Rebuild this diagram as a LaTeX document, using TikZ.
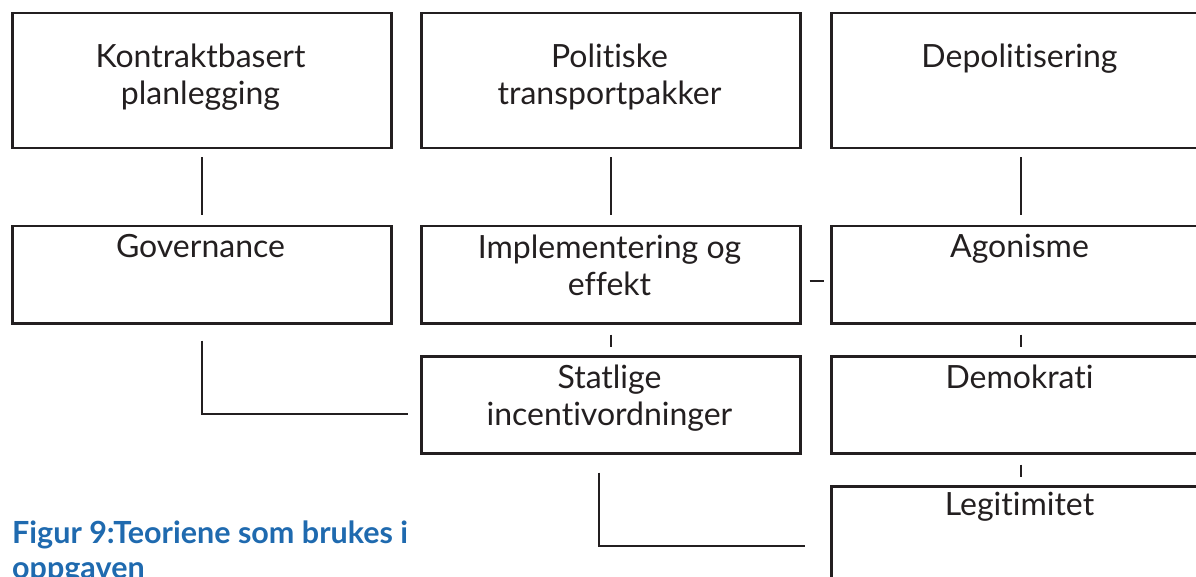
\documentclass[tikz,border=0pt]{standalone}
\usepackage{fontspec}
\setmainfont{Lato}[Ligatures=NoCommon]
\usetikzlibrary{calc}
\definecolor{ink}{HTML}{231F20}
\definecolor{capblue}{HTML}{1F6AAF}
\begin{document}
\begin{tikzpicture}[x=1pt,y=-1pt,
  box/.style={draw=ink, line width=2.5pt, rectangle, minimum width=379pt, minimum height=#1, inner sep=0pt, anchor=north west},
  lbl/.style={font=\fontsize{32}{37}\selectfont, align=center, anchor=base, inner sep=0pt, text=ink},
  link/.style={draw=ink, line width=2.2pt},
  caption/.style={font=\fontsize{30.5}{35}\selectfont\bfseries, align=left, anchor=base west, inner sep=0pt, text=capblue}]
\useasboundingbox (0,0) rectangle (1196,577);
\clip (0,0) rectangle (1196,577);
% boxes
\node[box=135pt] (k1) at (11,12) {};
\node[box=135pt] (k2) at (420,12) {};
\node[box=135pt] (k3) at (830,12) {};
\node[box=97pt] (gov) at (11,225) {};
\node[box=97pt] (impl) at (420,225) {};
\node[box=97pt] (agon) at (830,225) {};
\node[box=97pt] (stat) at (420,355) {};
\node[box=97pt] (demo) at (830,355) {};
\node[box=120pt] (legit) at (830,485) {};
% labels (anchor base = last line's baseline)
\node[lbl] (t1) at (200.5,105) {Kontraktbasert\\planlegging};
\node[lbl] (t2) at (609.5,105) {Politiske\\transportpakker};
\node[lbl] (t3) at (1019.5,68) {Depolitisering};
\node[lbl] (t4) at (200.5,258) {Governance};
\node[lbl] (t5) at (609.5,295) {Implementering og\\effekt};
\node[lbl] (t6) at (1019.5,258) {Agonisme};
\node[lbl] (t7) at (609.5,425) {Statlige\\incentivordninger};
\node[lbl] (t8) at (1019.5,388) {Demokrati};
\node[lbl] (t9) at (1019.5,515) {Legitimitet};
% connectors
\draw[link] ($(k1.south)+(0,8)$) -- ($(gov.north)+(0,-10)$);
\draw[link] ($(k2.south)+(0,8)$) -- ($(impl.north)+(0,-10)$);
\draw[link] ($(k3.south)+(0,8)$) -- ($(agon.north)+(0,-10)$);
\draw[link] ($(impl.east)+(8,6.5)$) -- ($(agon.west)+(-6,6.5)$);
\draw[link] ($(impl.south)+(0,10)$) -- ($(stat.north)+(0,-8)$);
\draw[link] ($(agon.south)+(0,10)$) -- ($(demo.north)+(0,-8)$);
\draw[link] ($(demo.south)+(0,10)$) -- ($(legit.north)+(0,-8)$);
\draw[link] ($(gov.south)+(0,16)$) |- ($(stat.west)+(-12,9.5)$);
\draw[link] ($(stat.south)+(-11.5,18)$) |- ($(legit.west)+(-25,0)$);
% caption
\node[caption] (cap) at (12,578) {Figur 9:Teoriene som brukes i\\oppgaven};
\end{tikzpicture}
\end{document}
